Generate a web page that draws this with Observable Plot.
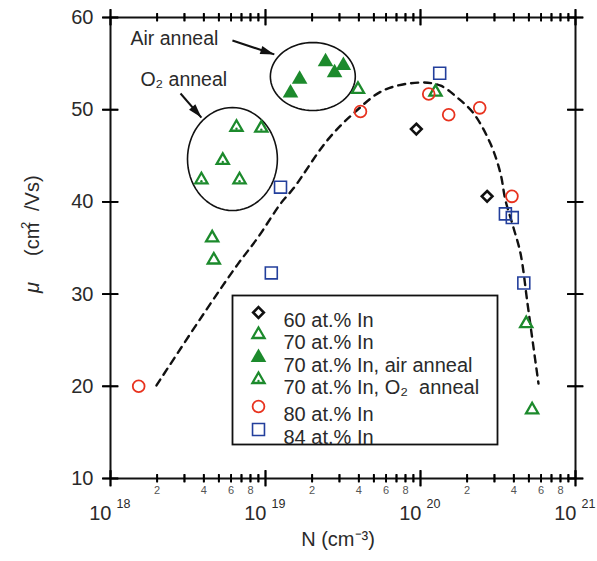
<!DOCTYPE html>
<html>
<head>
<meta charset="utf-8">
<script src="https://cdn.jsdelivr.net/npm/d3@7"></script>
<script src="https://cdn.jsdelivr.net/npm/@observablehq/plot@0.6"></script>
<style>
  html, body { margin: 0; padding: 0; background: #fff; }
  #chart { width: 597px; height: 561px; }
  #chart svg { font-family: 'Liberation Sans', Arial, Helvetica, sans-serif; }
</style>
</head>
<body>
<div id="chart"></div>
<script>
// ---------- data ----------
const seriesNames = ["60 at.% In", "70 at.% In", "70 at.% In, air anneal", "70 at.% In, O\u2082  anneal", "80 at.% In", "84 at.% In"];

const n60 = [9.4e19, 2.69e20];
const mu60 = [47.9, 40.6];
const n70 = [4.53e18, 4.64e18, 3.95e19, 1.25e20, 4.81e20, 5.25e20];
const mu70 = [36.1, 33.7, 52.2, 51.9, 26.8, 17.45];
const n70air = [1.45e19, 1.66e19, 2.44e19, 2.79e19, 3.18e19];
const mu70air = [51.8, 53.3, 55.2, 54.0, 54.8];
const n70o2 = [3.86e18, 5.3e18, 6.5e18, 6.8e18, 9.4e18];
const mu70o2 = [42.4, 44.5, 48.1, 42.4, 48.0];
const n80 = [1.52e18, 4.1e19, 1.13e20, 1.52e20, 2.41e20, 3.89e20];
const mu80 = [20.0, 49.8, 51.7, 49.45, 50.2, 40.6];
const n84 = [1.09e19, 1.25e19, 1.33e20, 3.53e20, 3.91e20, 4.64e20];
const mu84 = [32.3, 41.6, 53.95, 38.7, 38.3, 31.2];

// dashed guide curve
const nFit = [1.98e18, 4.04e18, 6.6e18, 8.9e18, 1.25e19, 1.52e19, 2.51e19, 3.7e19, 5.77e19, 1.0e20, 1.35e20, 1.73e20, 2.2e20, 2.83e20, 3.28e20, 3.53e20, 3.98e20, 4.42e20, 4.9e20, 5.28e20, 5.77e20];
const muFit = [20.1, 28.0, 33.2, 36.1, 39.8, 41.5, 46.7, 49.6, 52.1, 52.95, 52.6, 51.3, 49.6, 46.3, 43.1, 40.2, 37.2, 34.4, 29.0, 25.0, 20.3];

// axis ticks
const yTicks = [10, 20, 30, 40, 50, 60];
const decadeTicks = [1e18, 1e19, 1e20, 1e21];
const decadeExponents = ["18", "19", "20", "21"];
const minorTicks = [2,3,4,5,6,7,8,9].flatMap(m => [1e18, 1e19, 1e20].map(d => m * d));
const minorLabelTicks = [2,4,6,8].flatMap(m => [1e18, 1e19, 1e20].map(d => m * d));

// annotations: ellipses (center N, center mu, half-width in decades, half-height in mu)
const ellipseNames = ["O2", "air"];
const ellipseCenterN = [6.12e18, 2.02e19];
const ellipseCenterMu = [44.65, 53.6];
const ellipseHalfDecades = [0.29, 0.274];
const ellipseHalfMu = [5.59, 3.69];

// annotation labels and arrows
const noteTexts = ["Air anneal", "O\u2082 anneal"];
const noteN = [1.346e18, 1.56e18];
const noteMu = [57.72, 53.2];
const arrowN1 = [6.12e18, 2.83e18];
const arrowMu1 = [57.5, 51.76];
const arrowN2 = [1.14e19, 3.86e18];
const arrowMu2 = [56.0, 49.15];
const arrowAngle = [108.4, 138.8];

// ---------- tables ----------
const tbl = (ns, mus) => ns.map((N, i) => ({N, mu: mus[i]}));
const d60 = tbl(n60, mu60), d70 = tbl(n70, mu70), d70air = tbl(n70air, mu70air);
const d70o2 = tbl(n70o2, mu70o2), d80 = tbl(n80, mu80), d84 = tbl(n84, mu84);
const fit = tbl(nFit, muFit);

const ellipsePts = ellipseNames.flatMap((name, k) => d3.range(0, 73).map(j => {
  const t = j / 72 * 2 * Math.PI;
  return {name,
    N: Math.pow(10, Math.log10(ellipseCenterN[k]) + ellipseHalfDecades[k] * Math.cos(t)),
    mu: ellipseCenterMu[k] + ellipseHalfMu[k] * Math.sin(t)};
}));
const notes = noteTexts.map((text, i) => ({text, N: noteN[i], mu: noteMu[i]}));
const arrows = arrowN1.map((n, i) => ({x1: n, y1: arrowMu1[i], x2: arrowN2[i], y2: arrowMu2[i], angle: arrowAngle[i]}));

// ---------- styles ----------
const GREEN = "#1c8a2c", RED = "#e8321e", BLUE = "#233f9c", INK = "#111", TXT = "#2a2a2a";
const styles = [
  {symbol: "diamond2", stroke: INK, fill: "none", r: 4.8, strokeWidth: 2.6},
  {symbol: "triangle2", stroke: GREEN, fill: "none", r: 5.8, strokeWidth: 2.3},
  {symbol: "triangle", stroke: "none", fill: GREEN, r: 5.8, strokeWidth: 0},
  {symbol: "triangle2", stroke: GREEN, fill: "none", r: 5.8, strokeWidth: 2.3, inner: true},
  {symbol: "circle", stroke: RED, fill: "none", r: 5.9, strokeWidth: 1.8},
  {symbol: "square2", stroke: BLUE, fill: "none", r: 7.6, strokeWidth: 1.6}
];
const seriesData = [d60, d70, d70air, d70o2, d80, d84];
const legendRowY = [312, 334, 357, 379, 406, 429];

const arrowHead = {draw(ctx) { ctx.moveTo(0, 0); ctx.lineTo(4.2, 14); ctx.lineTo(-4.2, 14); ctx.closePath(); }};
// filled bar symbols used as tick marks
const vBar = L => ({draw(ctx) { ctx.moveTo(-0.9, -L); ctx.lineTo(0.9, -L); ctx.lineTo(0.9, L); ctx.lineTo(-0.9, L); ctx.closePath(); }});
const hBar = L => ({draw(ctx) { ctx.moveTo(-L, -0.9); ctx.lineTo(L, -0.9); ctx.lineTo(L, 0.9); ctx.lineTo(-L, 0.9); ctx.closePath(); }});

const W = 597, H = 561, ML = 110, MR = 22, MT = 17, MB = 83;
const FW = W - ML - MR, FH = H - MT - MB;
const xDomain = [1e18, 1e21], yDomain = [10, 60];

// ---------- marks ----------
const marks = [];
marks.push(Plot.line(fit, {x: "N", y: "mu", curve: "catmull-rom", stroke: INK, strokeWidth: 2.4, strokeDasharray: "7,6"}));
marks.push(Plot.line(ellipsePts, {x: "N", y: "mu", z: "name", stroke: INK, strokeWidth: 1.6, curve: "linear"}));
marks.push(Plot.link(arrows, {x1: "x1", y1: "y1", x2: "x2", y2: "y2", stroke: INK, strokeWidth: 2}));
marks.push(Plot.dot(arrows, {x: "x2", y: "y2", symbol: arrowHead, rotate: "angle", fill: INK, stroke: "none"}));
marks.push(Plot.text(notes, {x: "N", y: "mu", text: "text", textAnchor: "start", fontSize: 19.5, fill: TXT}));
seriesData.forEach((d, i) => {
  const s = styles[i];
  marks.push(Plot.dot(d, {x: "N", y: "mu", symbol: s.symbol, stroke: s.stroke, fill: s.fill, r: s.r, strokeWidth: s.strokeWidth}));
  if (s.inner) marks.push(Plot.dot(d, {x: "N", y: "mu", dy: 1.5, r: 1.2, fill: GREEN, stroke: "none"}));
});
marks.push(Plot.frame({stroke: INK, strokeWidth: 2}));

// tick labels
marks.push(Plot.text(yTicks, {y: d => d, text: d => String(d), frameAnchor: "left", textAnchor: "end", dx: -17, fontSize: 20, fill: TXT}));
marks.push(Plot.text(minorLabelTicks, {x: d => d, text: d => String(Math.round(d / Math.pow(10, Math.floor(Math.log10(d) + 1e-9)))), frameAnchor: "bottom", dy: 15, fontSize: 11, fill: "#555"}));
marks.push(Plot.text(decadeTicks, {x: d => d, text: () => "10", frameAnchor: "bottom", textAnchor: "end", dx: 1, dy: 41, fontSize: 20, fill: TXT}));
marks.push(Plot.text(decadeTicks, {x: d => d, text: (d, i) => decadeExponents[i], frameAnchor: "bottom", textAnchor: "start", dx: 6, dy: 29, fontSize: 12.5, fill: TXT}));

// axis titles
marks.push(Plot.text(["N (cm\u207B\u00B3)"], {text: d => d, frameAnchor: "bottom", dx: -5, dy: 67, fontSize: 20, fill: TXT}));
marks.push(Plot.text(["\u03BC"], {text: d => d, frameAnchor: "left", rotate: -90, dx: -78, dy: 45, fontSize: 20, fontStyle: "italic", fill: TXT}));
marks.push(Plot.text(["(cm"], {text: d => d, frameAnchor: "left", rotate: -90, dx: -78, dy: 8, fontSize: 20, fill: TXT}));
marks.push(Plot.text(["2"], {text: d => d, frameAnchor: "left", rotate: -90, dx: -85, dy: -19, fontSize: 13, fill: TXT}));
marks.push(Plot.text(["/Vs)"], {text: d => d, frameAnchor: "left", rotate: -90, dx: -78, dy: -37, fontSize: 20, fill: TXT}));

// legend
marks.push(Plot.frame({insetLeft: 122, insetTop: 278, insetRight: 78, insetBottom: 34, fill: "white", stroke: INK, strokeWidth: 1.8}));
seriesNames.forEach((name, i) => {
  const s = styles[i];
  const dy = legendRowY[i] - 17;
  marks.push(Plot.dot([name], {frameAnchor: "top-left", dx: 148, dy, symbol: s.symbol, stroke: s.stroke, fill: s.fill, r: s.r, strokeWidth: s.strokeWidth}));
  if (s.inner) marks.push(Plot.dot([name], {frameAnchor: "top-left", dx: 148, dy: dy + 1.5, r: 1.2, fill: GREEN, stroke: "none"}));
  marks.push(Plot.text([name], {text: d => d, frameAnchor: "top-left", dx: 173, dy, textAnchor: "start", fontSize: 20, fill: TXT}));
});

// tick marks crossing the frame: stroked rules ...
marks.push(Plot.ruleX(decadeTicks, {x: d => d, stroke: "black", strokeWidth: 1.8, insetTop: FH - 8, insetBottom: -8}));
marks.push(Plot.ruleX(minorTicks, {x: d => d, stroke: "black", strokeWidth: 1.8, insetTop: FH - 4, insetBottom: -4}));
marks.push(Plot.ruleX(decadeTicks, {x: d => d, stroke: "black", strokeWidth: 1.8, insetTop: -8, insetBottom: FH - 8}));
marks.push(Plot.ruleX(minorTicks, {x: d => d, stroke: "black", strokeWidth: 1.8, insetTop: -4, insetBottom: FH - 4}));
marks.push(Plot.ruleY(yTicks, {y: d => d, stroke: "black", strokeWidth: 1.8, insetLeft: -8, insetRight: FW - 8}));
marks.push(Plot.ruleY(yTicks, {y: d => d, stroke: "black", strokeWidth: 1.8, insetLeft: FW - 8, insetRight: -8}));
// ... and the same ticks as filled bar symbols placed on the scales
const bar = {fill: "black", stroke: "none"};
marks.push(Plot.dot(decadeTicks, {...bar, x: d => d, y: () => yDomain[0], symbol: vBar(8)}));
marks.push(Plot.dot(minorTicks, {...bar, x: d => d, y: () => yDomain[0], symbol: vBar(4)}));
marks.push(Plot.dot(decadeTicks, {...bar, x: d => d, y: () => yDomain[1], symbol: vBar(8)}));
marks.push(Plot.dot(minorTicks, {...bar, x: d => d, y: () => yDomain[1], symbol: vBar(4)}));
marks.push(Plot.dot(yTicks, {...bar, y: d => d, x: () => xDomain[0], symbol: hBar(8)}));
marks.push(Plot.dot(yTicks, {...bar, y: d => d, x: () => xDomain[1], symbol: hBar(8)}));

const chart = Plot.plot({
  width: W, height: H,
  marginLeft: ML, marginRight: MR, marginTop: MT, marginBottom: MB,
  x: {type: "log", domain: xDomain, axis: null},
  y: {domain: yDomain, axis: null},
  marks
});
document.getElementById("chart").appendChild(chart);
</script>
</body>
</html>
